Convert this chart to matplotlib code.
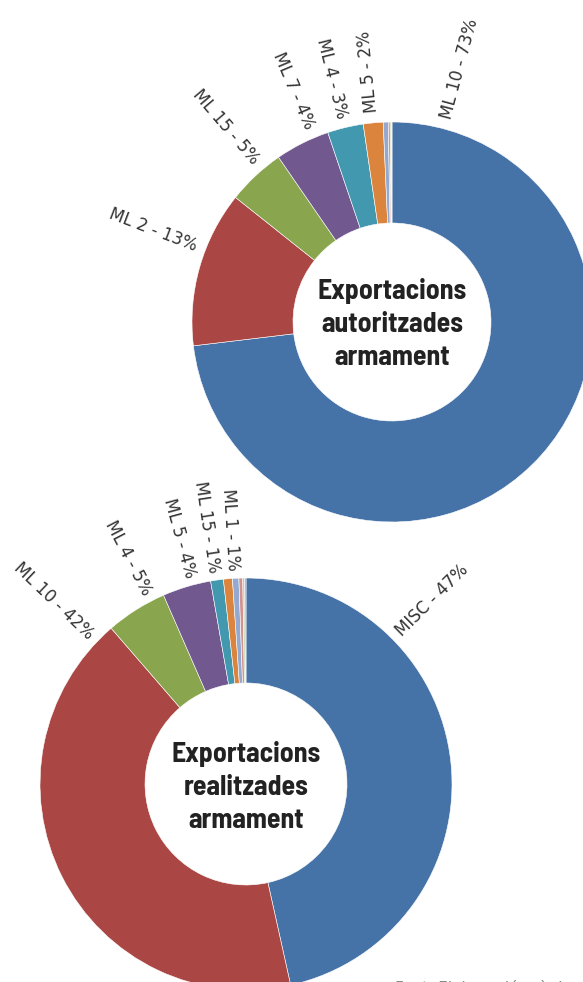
import numpy as np
import matplotlib
matplotlib.use("Agg")
import matplotlib.pyplot as plt

# dades: exportacions autoritzades (gràfic de dalt)
top_labels = ["ML 10", "ML 2", "ML 15", "ML 7", "ML 4", "ML 5", "", "", "", ""]
top_values = [73.1, 12.6, 4.7, 4.4, 2.9, 1.6, 0.4, 0.15, 0.1, 0.05]
top_pct = [73, 13, 5, 4, 3, 2]

# dades: exportacions realitzades (gràfic de baix)
bot_labels = ["MISC", "ML 10", "ML 4", "ML 5", "ML 15", "ML 1", "", "", "", ""]
bot_values = [46.5, 42.1, 4.8, 3.8, 1.0, 0.7, 0.5, 0.3, 0.15, 0.1]
bot_pct = [47, 42, 5, 4, 1, 1]

colors = ["#4572A7", "#AA4643", "#89A54E", "#71588F", "#4198AF",
          "#DB843D", "#93A9CF", "#D19392", "#B9CD96", "#A99BBD"]

# on es col·loquen les etiquetes (graus des de dalt, sentit horari)
top_label_ang = [15.0, 291.0, 319.5, 337.0, 346.0, 354.5]
top_flip = [False, True, True, True, True, False]
bot_label_ang = [45.4, 313.7, 332.5, 344.8, 351.4, 356.5]
bot_flip = [False, True, True, True, True, True]

W, H = 583, 982
fig = plt.figure(figsize=(W / 100, H / 100), dpi=100)
ax = fig.add_axes([0, 0, 1, 1])


def donut(values, center, r, ring):
    ax.pie(values, colors=colors, startangle=90, counterclock=False,
           center=center, radius=r,
           wedgeprops=dict(width=ring, edgecolor="white", linewidth=0.4))


def labels(names, pcts, angs, flips, center, r):
    for name, p, a, fl in zip(names, pcts, angs, flips):
        th = np.deg2rad(90 - a)
        x = center[0] + r * np.cos(th)
        y = center[1] + r * np.sin(th)
        rot = 90 - a
        if fl:
            rot = rot - 180
            ha = "right"
        else:
            ha = "left"
        rot = (rot + 180) % 360 - 180
        ax.text(x, y, f"{name} - {p}%", rotation=rot, rotation_mode="anchor",
                ha=ha, va="center", fontsize=12, color="#333333",
                family="DejaVu Sans")


c_top = (392, H - 322)
c_bot = (246, H - 784)

donut(top_values, c_top, 200, 101)
donut(bot_values, c_bot, 206, 105)

labels(top_labels, top_pct, top_label_ang, top_flip, c_top, 210)
labels(bot_labels, bot_pct, bot_label_ang, bot_flip, c_bot, 214)

center_font = dict(ha="center", va="center", fontsize=20, fontweight=700,
                   color="#222222", linespacing=1.38,
                   family=["Barlow Semi Condensed", "DejaVu Sans"])
ax.text(c_top[0], c_top[1] - 2, "Exportacions\nautoritzades\narmament", **center_font)
ax.text(c_bot[0], c_bot[1] - 3, "Exportacions\nrealitzades\narmament", **center_font)

# peu de font, tallat a la vora inferior com a l'original
ax.text(395, -11, "Font: Elaboració pròpia", ha="left", va="baseline",
        fontsize=11, color="#888888")

ax.set_xlim(0, W)
ax.set_ylim(0, H)
ax.set_aspect("equal")
ax.axis("off")

fig.savefig("out.png", dpi=100)
